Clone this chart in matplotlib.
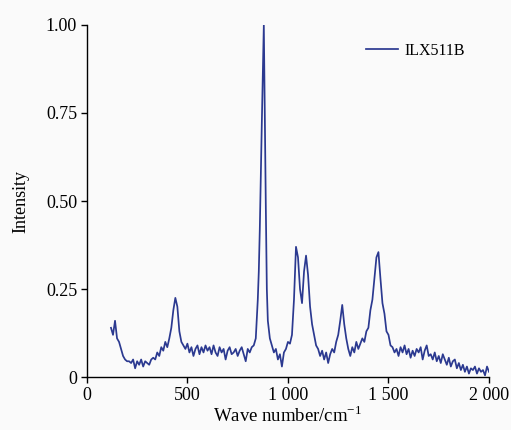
import numpy as np
import matplotlib
matplotlib.use("Agg")
import matplotlib.pyplot as plt

plt.rcParams['font.family'] = ['Liberation Serif', 'DejaVu Serif']
plt.rcParams['mathtext.fontset'] = 'custom'
plt.rcParams['mathtext.rm'] = 'Liberation Serif'

# Wave numbers (cm^-1)
wavenumber = np.concatenate([np.arange(120, 851, 10), [855],
                             np.arange(860, 891, 10), [895],
                             np.arange(900, 2001, 10)])

# Intensity
intensity = [
    # 120-200
    0.14, 0.12, 0.16, 0.11, 0.10, 0.08, 0.06, 0.05, 0.045,
    # 210-320
    0.045, 0.04, 0.05, 0.025, 0.045, 0.035, 0.05, 0.03, 0.045, 0.04, 0.035, 0.05,
    # 330-430
    0.055, 0.05, 0.07, 0.06, 0.085, 0.075, 0.10, 0.085, 0.11, 0.14, 0.19,
    # 440-470
    0.225, 0.20, 0.13, 0.10,
    # 480-840
    0.09, 0.08, 0.095, 0.07, 0.085, 0.06, 0.08, 0.09, 0.065, 0.085,
    0.07, 0.09, 0.075, 0.085, 0.065, 0.09, 0.07, 0.06, 0.085, 0.07,
    0.08, 0.05, 0.075, 0.085, 0.065, 0.07, 0.08, 0.06, 0.075, 0.085,
    0.065, 0.045, 0.08, 0.07, 0.085, 0.09, 0.11,
    # 850
    0.22,
    # 855
    0.30,
    # 860-890
    0.42, 0.72, 1.00, 0.48,
    # 895
    0.25,
    # 900-910
    0.16, 0.11,
    # 920-1020
    0.09, 0.07, 0.08, 0.05, 0.065, 0.03, 0.07, 0.08, 0.10, 0.095, 0.12,
    # 1030-1140
    0.22, 0.37, 0.34, 0.25, 0.21, 0.30, 0.345, 0.29, 0.20, 0.15, 0.12, 0.09,
    # 1150-1250
    0.08, 0.06, 0.075, 0.05, 0.07, 0.04, 0.065, 0.08, 0.07, 0.10, 0.12,
    # 1260-1300
    0.16, 0.205, 0.15, 0.11, 0.08,
    # 1310-1400
    0.06, 0.085, 0.07, 0.10, 0.08, 0.095, 0.11, 0.10, 0.13, 0.14,
    # 1410-1510
    0.19, 0.22, 0.28, 0.34, 0.355, 0.28, 0.21, 0.18, 0.13, 0.12, 0.09,
    # 1520-1700
    0.085, 0.07, 0.08, 0.06, 0.085, 0.07, 0.09, 0.065, 0.08, 0.055,
    0.075, 0.06, 0.08, 0.07, 0.085, 0.05, 0.075, 0.09, 0.06,
    # 1710-1850
    0.065, 0.05, 0.07, 0.045, 0.06, 0.04, 0.065, 0.05, 0.035, 0.055,
    0.03, 0.045, 0.05, 0.025, 0.04,
    # 1860-2000
    0.02, 0.035, 0.015, 0.03, 0.01, 0.025, 0.02, 0.03, 0.01, 0.025,
    0.015, 0.02, 0.005, 0.03, 0.015,
]

xticks = [0, 500, 1000, 1500, 2000]
xtick_labels = ['0', '500', '1 000', '1 500', '2 000']
yticks = [0, 0.25, 0.5, 0.75, 1.0]
ytick_labels = ['0', '0.25', '0.50', '0.75', '1.00']

bg = '#fafafa'
fig = plt.figure(figsize=(5.11, 4.30), dpi=100, facecolor=bg)
ax = fig.add_axes([0.170, 0.123, 0.787, 0.819], facecolor=bg)

ax.plot(wavenumber, intensity, color='#2b3990', lw=1.25, label='ILX511B')

ax.set_xlim(0, 2000)
ax.set_ylim(0, 1.0)
ax.set_xticks(xticks)
ax.set_xticklabels(xtick_labels)
ax.set_yticks(yticks)
ax.set_yticklabels(ytick_labels)
ax.tick_params(direction='out', length=4, width=1, labelsize=13, colors='black', pad=3)
for s in ['top', 'right']:
    ax.spines[s].set_visible(False)
for s in ['left', 'bottom']:
    ax.spines[s].set_linewidth(1)

ax.set_xlabel('Wave number/cm$^{\\mathrm{-1}}$', fontsize=13.5, labelpad=1)
ax.set_ylabel('Intensity', fontsize=13, labelpad=12)

ax.legend(loc='upper right', frameon=False, fontsize=11.5, handlelength=2.0,
          handletextpad=0.4, bbox_to_anchor=(0.975, 0.99))

fig.savefig('out.png', dpi=100, facecolor=bg)
